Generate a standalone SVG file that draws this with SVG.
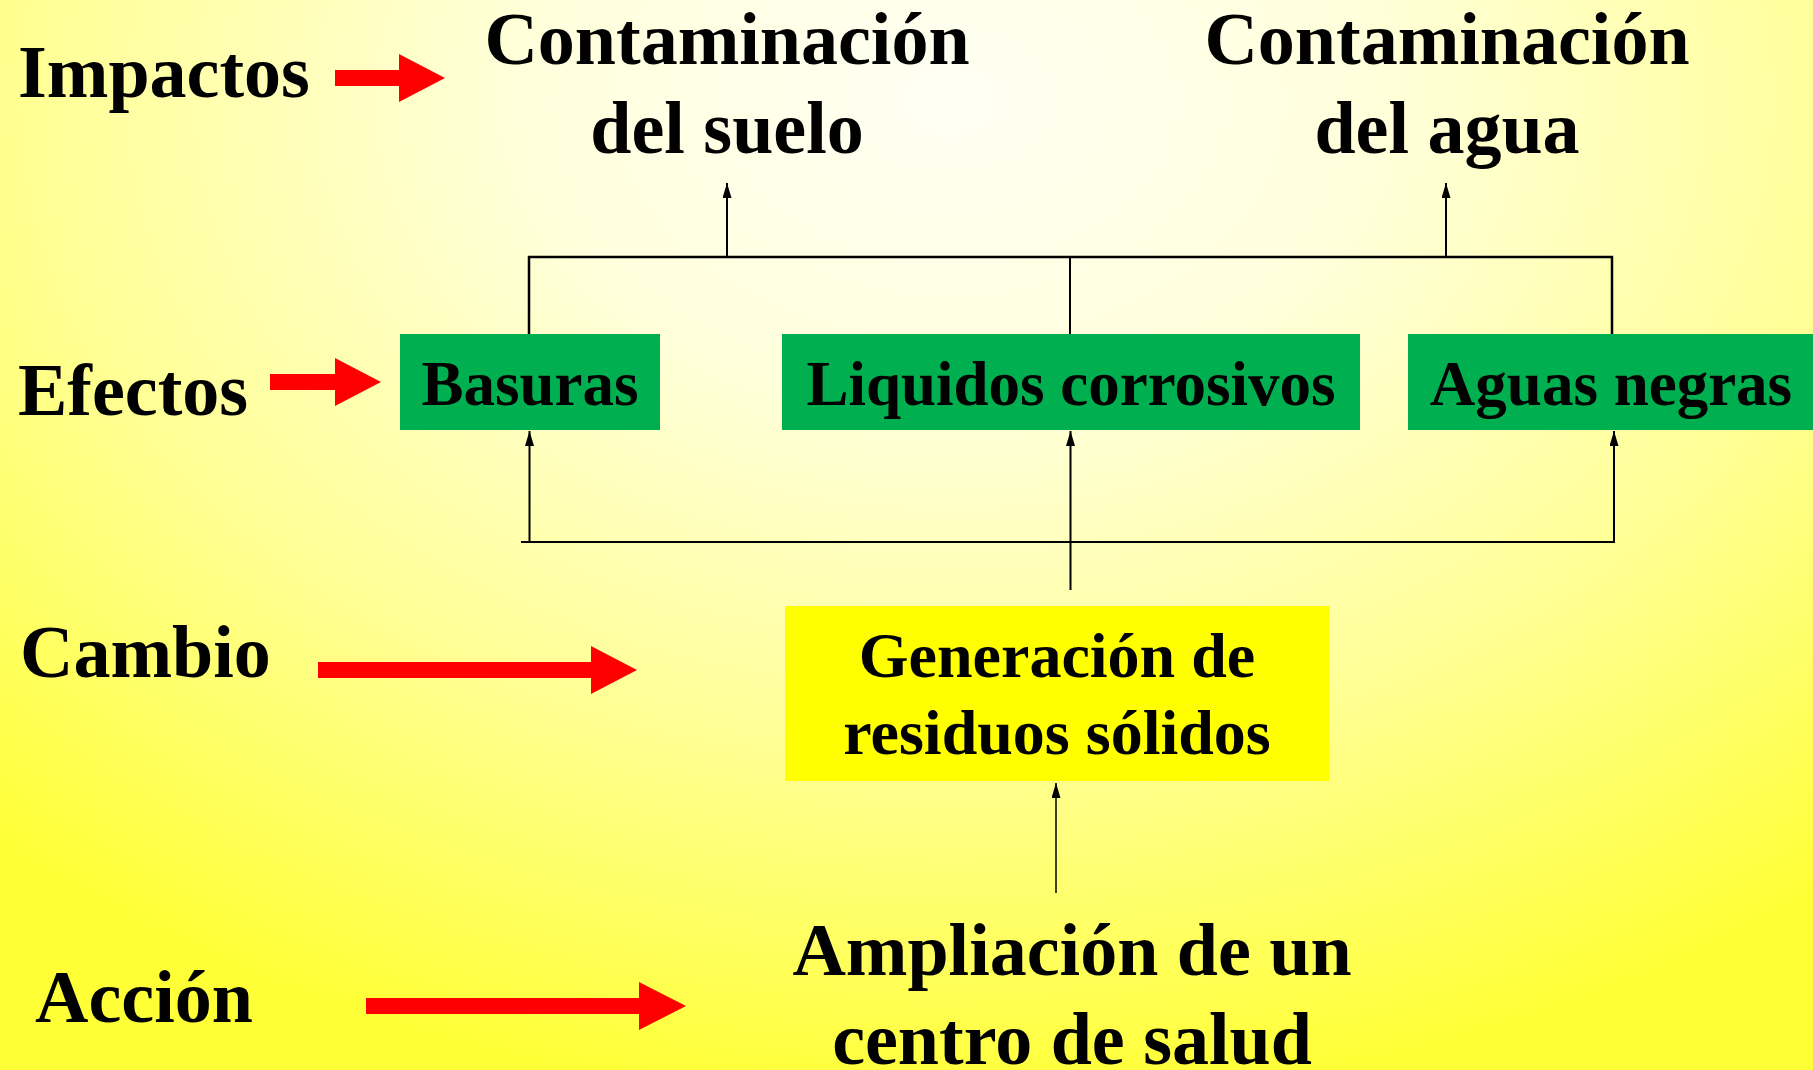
<svg xmlns="http://www.w3.org/2000/svg" width="1813" height="1070" viewBox="0 0 1813 1070">
<defs>
<radialGradient id="bg" gradientUnits="userSpaceOnUse" cx="950" cy="100" r="1000" gradientTransform="translate(950 100) scale(1.4 1) translate(-950 -100)">
<stop offset="0" stop-color="#FFFFF4"/>
<stop offset="0.3" stop-color="#FFFFDC"/>
<stop offset="0.65" stop-color="#FFFF96"/>
<stop offset="1" stop-color="#FFFF38"/>
</radialGradient>
<marker id="ah" markerUnits="userSpaceOnUse" markerWidth="16" markerHeight="10" refX="15" refY="4.5" orient="auto">
<path d="M0,0 L15,4.5 L0,9 z" fill="#000"/>
</marker>
<style>
.lbl{font-family:"Liberation Serif","Times New Roman",serif;font-weight:bold;font-size:74px;fill:#000}
.box{font-family:"Liberation Serif","Times New Roman",serif;font-weight:bold;font-size:63px;fill:#000;text-anchor:middle}
.mid{text-anchor:middle}
.red{fill:#FF0000}
.green{fill:#00B050}
.conn{stroke:#000;stroke-width:2;fill:none}
</style>
</defs>
<rect x="0" y="0" width="1813" height="1070" fill="url(#bg)"/>

<g id="labels">
<text class="lbl" x="18" y="97">Impactos</text>
<text class="lbl" x="18" y="415">Efectos</text>
<text class="lbl" x="20" y="677">Cambio</text>
<text class="lbl" x="35" y="1022">Acción</text>
</g>

<g id="red-arrows">
<polygon class="red" points="335,70 399,70 399,54 445,78 399,102 399,86 335,86"/>
<polygon class="red" points="270,374 335,374 335,358 381,382 335,406 335,390 270,390"/>
<polygon class="red" points="318,662 591,662 591,646 637,670 591,694 591,678 318,678"/>
<polygon class="red" points="366,998 639,998 639,982 686,1006 639,1030 639,1014 366,1014"/>
</g>

<g id="impacto-suelo">
<text class="lbl mid" x="727" y="64">Contaminación</text>
<text class="lbl mid" x="727" y="153">del suelo</text>
</g>
<g id="impacto-agua">
<text class="lbl mid" x="1447" y="64">Contaminación</text>
<text class="lbl mid" x="1447" y="153">del agua</text>
</g>

<g id="efecto-basuras">
<rect class="green" x="400" y="334" width="260" height="96"/>
<text class="box" x="530" y="405">Basuras</text>
</g>
<g id="efecto-liquidos">
<rect class="green" x="782" y="334" width="578" height="96"/>
<text class="box" x="1071" y="405">Liquidos corrosivos</text>
</g>
<g id="efecto-aguas">
<rect class="green" x="1408" y="334" width="405" height="96"/>
<text class="box" x="1611" y="405">Aguas negras</text>
</g>

<g id="cambio">
<rect x="785" y="606" width="544" height="175" fill="#FFFF00"/>
<text class="box" x="1057" y="677" style="font-size:64px">Generación de</text>
<text class="box" x="1057" y="754" style="font-size:64px">residuos sólidos</text>
</g>

<g id="accion">
<text class="lbl mid" x="1072" y="975">Ampliación de un</text>
<text class="lbl mid" x="1072" y="1064">centro de salud</text>
</g>

<g id="connectors">
<path class="conn" d="M529,334 V257 H1612 V334" style="stroke-width:2.5"/>
<path class="conn" d="M1070,257 V334"/>
<path class="conn" d="M727,257 V183" marker-end="url(#ah)"/>
<path class="conn" d="M1446,257 V183" marker-end="url(#ah)"/>
<path class="conn" d="M521,542 H1615"/>
<path class="conn" d="M529.5,542 V431" marker-end="url(#ah)"/>
<path class="conn" d="M1070.5,590 V431" marker-end="url(#ah)"/>
<path class="conn" d="M1614,542 V431" marker-end="url(#ah)"/>
<path class="conn" d="M1056,893 V783" style="stroke-width:1.5" marker-end="url(#ah)"/>
</g>
</svg>
